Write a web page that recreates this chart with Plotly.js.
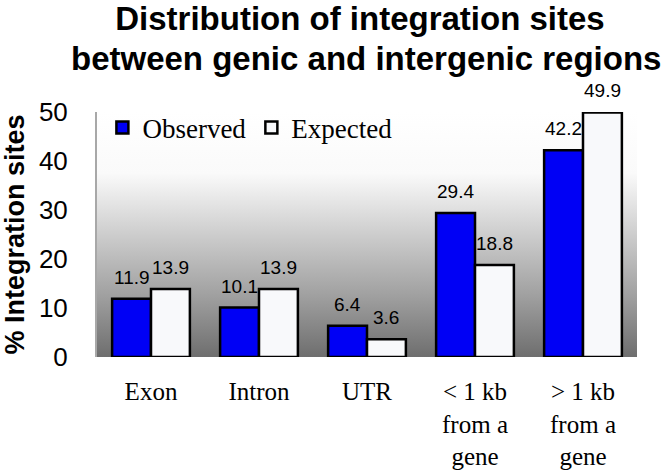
<!DOCTYPE html>
<html>
<head>
<meta charset="utf-8">
<script src="https://cdn.plot.ly/plotly-3.0.1.min.js"></script>
<style>
  html, body { margin: 0; padding: 0; background: #ffffff; }
  #chart { width: 666px; height: 474px; }
</style>
</head>
<body>
<div id="chart"></div>
<script>
const titleLine1 = "Distribution of integration sites";
const titleLine2 = "between genic and intergenic regions";
const categories = ["Exon", "Intron", "UTR", "< 1 kb<br>from a<br>gene", "> 1 kb<br>from a<br>gene"];
const seriesNames = ["Observed", "Expected"];
const observed = [11.9, 10.1, 6.4, 29.4, 42.2];
const expected = [13.9, 13.9, 3.6, 18.8, 49.9];
const yTicks = [0, 10, 20, 30, 40, 50];

const gradSvg = '<svg xmlns="http://www.w3.org/2000/svg" width="10" height="100" preserveAspectRatio="none">' +
  '<defs><linearGradient id="g" x1="0" y1="0" x2="0" y2="1">' +
  '<stop offset="0" stop-color="#ffffff"/>' +
  '<stop offset="0.25" stop-color="#fafafa"/>' +
  '<stop offset="0.5" stop-color="#cdcdcd"/>' +
  '<stop offset="0.75" stop-color="#a0a0a0"/>' +
  '<stop offset="1" stop-color="#6e6e6e"/>' +
  '</linearGradient></defs><rect width="10" height="100" fill="url(#g)"/></svg>';
const gradUri = 'data:image/svg+xml;base64,' + btoa(gradSvg);

const sans = 'Liberation Sans, Arial, sans-serif';
const serif = 'Liberation Serif, Times New Roman, serif';

const BARGAP = 0.28;
const barHalf = (1 - BARGAP) / 4; // offset of each bar centre from category centre

const traces = [
  {
    type: 'bar', name: seriesNames[0], x: categories, y: observed,
    marker: { color: '#0000f5', line: { color: '#000000', width: 2.5 } },
    hoverinfo: 'none'
  },
  {
    type: 'bar', name: seriesNames[1], x: categories, y: expected,
    marker: { color: '#f8f9fb', line: { color: '#000000', width: 2.5 } },
    hoverinfo: 'none'
  }
];

// value labels, placed via the axis scales
const valueLabels = [];
[observed, expected].forEach((arr, s) => {
  arr.forEach((v, i) => {
    valueLabels.push({
      text: v.toFixed(1), showarrow: false,
      xref: 'x', yref: 'y', x: i + (s === 0 ? -barHalf : barHalf), y: v,
      xanchor: 'center', yanchor: 'bottom', yshift: 9,
      font: { family: sans, size: 19, color: '#000' }
    });
  });
});

const layout = {
  width: 666, height: 474,
  margin: { l: 97, r: 29, t: 112, b: 117 },
  paper_bgcolor: '#ffffff',
  plot_bgcolor: 'rgba(0,0,0,0)',
  barmode: 'group',
  bargap: BARGAP,
  bargroupgap: 0,
  showlegend: true,
  title: {
    text: titleLine1,
    font: { family: sans, size: 33, color: '#000', weight: 'bold' },
    x: 0.487, xanchor: 'center', xref: 'paper',
    y: 0.962, yanchor: 'middle', yref: 'container'
  },
  annotations: [{
    text: titleLine2, showarrow: false,
    xref: 'paper', yref: 'paper', x: 0.498, y: 1.22,
    xanchor: 'center', yanchor: 'middle',
    font: { family: sans, size: 33, color: '#000', weight: 'bold' }
  }].concat(valueLabels),
  legend: {
    orientation: 'h', x: 0.01, xanchor: 'left', y: 1.035, yanchor: 'top',
    bgcolor: 'rgba(0,0,0,0)',
    font: { family: serif, size: 27, color: '#000' },
    itemclick: false, itemdoubleclick: false, traceorder: 'normal'
  },
  xaxis: {
    type: 'category',
    showgrid: false, zeroline: false, showline: false,
    ticks: '', ticklabelstandoff: 17,
    tickfont: { family: serif, size: 25, color: '#000' },
    fixedrange: true
  },
  yaxis: {
    range: [0, 50],
    tickvals: yTicks,
    ticktext: yTicks.map(String),
    showgrid: false, zeroline: false,
    showline: true, linecolor: '#a8a8a8', linewidth: 2,
    ticks: '', ticklabelstandoff: 22,
    tickfont: { family: sans, size: 26, color: '#000' },
    title: {
      text: '% Integration sites',
      font: { family: sans, size: 27, color: '#000', weight: 'bold' },
      standoff: 7
    },
    fixedrange: true
  },
  images: [{
    source: gradUri, xref: 'paper', yref: 'paper',
    x: 0, y: 1, sizex: 1, sizey: 1,
    xanchor: 'left', yanchor: 'top',
    sizing: 'stretch', layer: 'below'
  }]
};

Plotly.newPlot('chart', traces, layout, { displayModeBar: false, staticPlot: true });
</script>
</body>
</html>
